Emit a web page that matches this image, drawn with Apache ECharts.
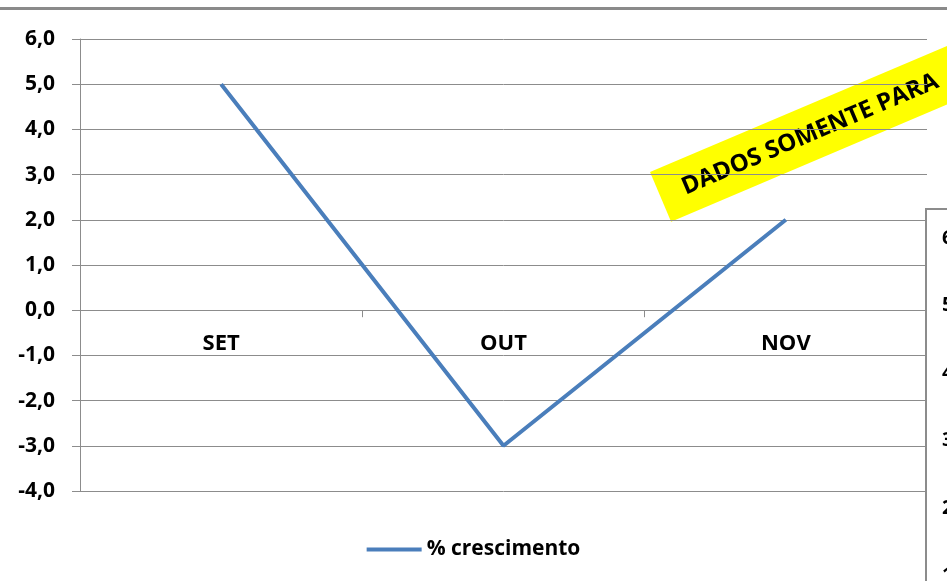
<!DOCTYPE html>
<html lang="pt">
<head>
    <meta charset="UTF-8">
    <title>% crescimento</title>
    <script type="text/javascript" src="https://cdn.jsdelivr.net/npm/echarts@6/dist/echarts.min.js"></script>
    <style>
        html, body { margin: 0; padding: 0; background: #fff; }
        #main { width: 947px; height: 581px; }
    </style>
</head>
<body>
<div id="main"></div>
<script>
    // dados do grafico
    let meses = ['SET', 'OUT', 'NOV'];
    let crescimento = [5.0, -3.0, 2.0];
    let nomeSerie = '% crescimento';
    let yMin = -4, yMax = 6;
    // rotulos do grafico vizinho (cortado na direita)
    let rotulosVizinho = ['6,0', '5,0', '4,0', '3,0', '2,0', '1,0'];

    let fonte = '"Open Sans", "DejaVu Sans", sans-serif';

    let chartDom = document.getElementById('main');
    let myChart = echarts.init(chartDom);

    let gridTop = 39, gridBottom = 90;
    let alturaGrid = 581 - gridTop - gridBottom;
    // eixo das categorias fica na linha do zero (como no Excel)
    let offsetZero = -alturaGrid * (0 - yMin) / (yMax - yMin);

    // caixa do outro grafico + textos
    let vizinho = [{
        type: 'rect',
        shape: {x: 926, y: 209, width: 60, height: 420},
        style: {fill: '#fff', stroke: '#8c8c8c', lineWidth: 2},
        z: 10
    }];
    rotulosVizinho.forEach(function (t, i) {
        vizinho.push({
            type: 'text',
            x: 942, y: 238 + i * 67.5,
            style: {text: t, font: 'bold 20px ' + fonte, fill: '#000', textVerticalAlign: 'middle'},
            z: 11
        });
    });

    let option = {
        animation: false,
        grid: {
            left: 80,
            top: gridTop,
            right: 20,
            bottom: gridBottom,
            containLabel: false
        },
        legend: {
            top: 534,
            left: 'center',
            icon: 'rect',
            itemWidth: 55,
            itemHeight: 4,
            itemGap: 10,
            textStyle: {fontFamily: fonte, fontWeight: 'bold', fontSize: 21, color: '#000'},
            data: [nomeSerie]
        },
        xAxis: {
            type: 'category',
            data: meses,
            boundaryGap: true,
            offset: offsetZero,
            axisLine: {onZero: false, lineStyle: {color: '#8c8c8c', width: 1}},
            axisTick: {show: true, length: 7, inside: false, lineStyle: {color: '#8c8c8c'}},
            axisLabel: {margin: 23, fontFamily: fonte, fontWeight: 'bold', fontSize: 22, color: '#000'},
            splitLine: {show: false}
        },
        yAxis: {
            type: 'value',
            min: yMin,
            max: yMax,
            interval: 1,
            axisLine: {show: true, lineStyle: {color: '#8c8c8c', width: 1}},
            axisTick: {show: true, length: 8, lineStyle: {color: '#8c8c8c'}},
            axisLabel: {
                margin: 25,
                fontFamily: fonte, fontWeight: 'bold', fontSize: 21, color: '#000',
                formatter: function (v) { return v.toFixed(1).replace('.', ','); }
            },
            splitLine: {show: true, lineStyle: {color: '#8c8c8c', width: 1}}
        },
        series: [{
            name: nomeSerie,
            type: 'line',
            data: crescimento,
            symbol: 'none',
            lineStyle: {color: '#4a7ebb', width: 4},
            itemStyle: {color: '#4a7ebb'}
        }],
        graphic: [
            // linha cinza no topo
            {
                type: 'rect',
                shape: {x: 0, y: 7, width: 947, height: 3},
                style: {fill: '#8a8a8a'}
            },
            // faixa amarela
            {
                type: 'group',
                x: 650, y: 172,
                rotation: 23 * Math.PI / 180,
                z: 20,
                children: [
                    {
                        type: 'rect',
                        shape: {x: 0, y: 0, width: 420, height: 54},
                        style: {fill: '#ffff00'}
                    },
                    {
                        type: 'text',
                        x: 24, y: 28,
                        style: {
                            text: 'DADOS SOMENTE PARA',
                            font: 'bold 24px ' + fonte,
                            fill: '#000',
                            textVerticalAlign: 'middle'
                        }
                    }
                ]
            }
        ].concat(vizinho)
    };
    myChart.setOption(option);
</script>
</body>
</html>
